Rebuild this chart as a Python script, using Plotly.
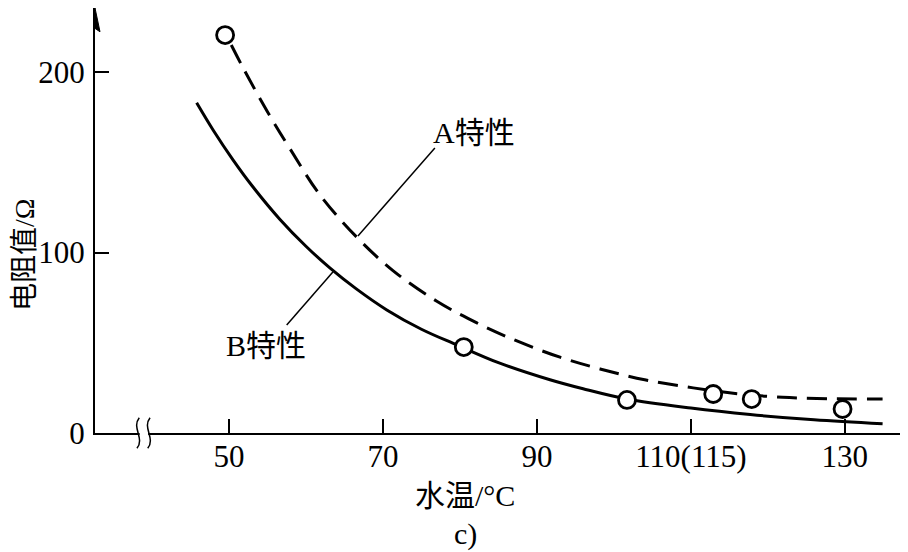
import plotly.graph_objects as go

# ---- data ----
a_x = [50.3, 52, 55, 58, 61.8, 66.6, 71.3, 77, 82.2, 87.4, 93, 98.2, 104, 110.3, 116, 121.9, 128, 134.9]
a_y = [215, 201, 178, 157, 132, 108.5, 90, 73, 61, 51, 42, 35.5, 29.5, 25, 21.8, 19.8, 19, 18.8]

b_x = [45.8, 48, 50.5, 53, 56.6, 60, 63.1, 66.5, 70.5, 75, 79.6, 85, 91.7, 96, 101.7, 110, 117.7, 126, 134.9]
b_y = [183, 167.5, 151.5, 137, 118.5, 103.5, 91.5, 80, 68.2, 57.5, 48.8, 39, 29.5, 24.5, 18.8, 13.8, 10.2, 7.3, 5.1]

pt_x = [49.5, 80.5, 101.7, 112.9, 117.9, 129.7]
pt_y = [220.5, 47.6, 18.3, 21.6, 18.8, 13.3]

x_ticks = [50, 70, 90, 110, 130]
x_ticktext = ["50", "70", "90", "110(115)", "130"]
y_ticks = [0, 100, 200]
y_ticktext = ["0", "100", "200"]

x_range = [32.6, 138.2]
y_range = [0, 235.5]

FONT = "Liberation Serif, 'Noto Sans CJK SC', serif"

# page offset of 8px (body margin): figure 900x544 placed at (8,8)
PLOT_H = 425.0
PLOT_W = 813.0


def px(page_x):
    return (page_x - 95) / PLOT_W


def py(page_y):
    return (433 - page_y) / PLOT_H


fig = go.Figure()
fig.add_trace(go.Scatter(x=a_x, y=a_y, mode="lines",
                         line=dict(color="black", width=3, dash="20px,10px", shape="spline", smoothing=1.0),
                         showlegend=False))
fig.add_trace(go.Scatter(x=b_x, y=b_y, mode="lines",
                         line=dict(color="black", width=3, shape="spline", smoothing=1.0),
                         showlegend=False))
fig.add_trace(go.Scatter(x=pt_x, y=pt_y, mode="markers",
                         marker=dict(symbol="circle", size=17, color="white", line=dict(color="black", width=2.8)),
                         showlegend=False, cliponaxis=False))

fig.update_layout(
    width=900, height=544,
    margin=dict(l=87, r=0, t=0, b=119),
    paper_bgcolor="white", plot_bgcolor="white",
    font=dict(family=FONT, size=30, color="black"),
    xaxis=dict(range=x_range, showgrid=False, zeroline=False, showline=True, linecolor="black", linewidth=2,
               ticks="inside", ticklen=14, tickwidth=2, tickcolor="black",
               tickvals=x_ticks, ticktext=x_ticktext, ticklabelstandoff=-5, tickfont=dict(size=31)),
    yaxis=dict(range=y_range, showgrid=False, zeroline=False, showline=True, linecolor="black", linewidth=2,
               ticks="inside", ticklen=14, tickwidth=2, tickcolor="black",
               tickvals=y_ticks, ticktext=y_ticktext, ticklabelstandoff=2, tickfont=dict(size=31)),
)

# axis arrow on y
ax0 = x_range[0]
fig.add_shape(type="path", xref="x", yref="paper", layer="above",
              path=f"M {ax0},1.0 L {ax0-0.65},0.944 L {ax0},0.952 L {ax0+0.65},0.944 Z",
              fillcolor="black", line=dict(color="black", width=1))

# axis break symbol
fig.add_shape(type="rect", xref="x", yref="paper", x0=38.4, x1=39.5, y0=-0.01, y1=0.01,
              fillcolor="white", line=dict(width=0), layer="above")
for xb in [38.2, 39.6]:
    fig.add_shape(type="path", xref="x", yref="paper", layer="above",
                  path=f"M {xb+0.15},0.036 C {xb-0.9},0.012 {xb+0.9},-0.012 {xb-0.15},-0.036",
                  line=dict(color="black", width=1.5))

# labels with leader lines
fig.add_annotation(x=81.8, y=(433 - 132) / 1.805, text="A特性", showarrow=False, xanchor="center", yanchor="middle")
fig.add_annotation(x=54.8, y=(433 - 345) / 1.805, text="B特性", showarrow=False, xanchor="center", yanchor="middle")
fig.add_shape(type="line", x0=66.75, y0=109.1, x1=76.75, y1=157.9, line=dict(color="black", width=1.5))
fig.add_shape(type="line", x0=63.5, y0=89.2, x1=57.5, y1=59.8, line=dict(color="black", width=1.5))

# axis titles
fig.add_annotation(xref="paper", yref="paper", x=px(465), y=py(495), text="水温/°C",
                   showarrow=False, xanchor="center", yanchor="middle")
fig.add_annotation(xref="paper", yref="paper", x=px(465), y=py(534), text="c)",
                   showarrow=False, xanchor="center", yanchor="middle")
fig.add_annotation(xref="paper", yref="paper", x=px(24), y=py(255), text="电阻值/Ω",
                   font=dict(size=28), showarrow=False, textangle=-90, xanchor="center", yanchor="middle")

fig.write_html("out.html")
